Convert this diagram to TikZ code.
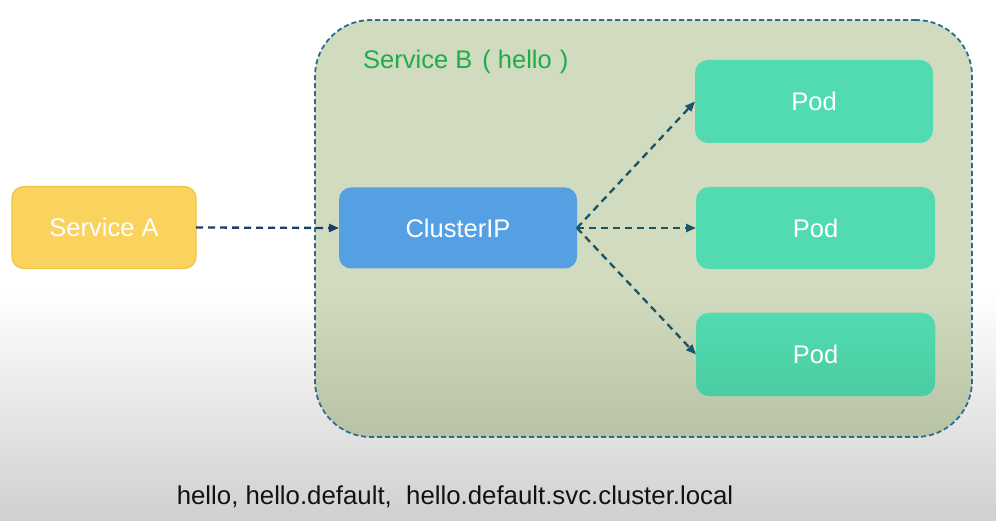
\documentclass[tikz,border=0pt]{standalone}
\usepackage{fontspec}
\setmainfont{Liberation Sans}
\usetikzlibrary{arrows.meta}
\definecolor{bgbot}{RGB}{208,208,208}
\definecolor{sbtop}{RGB}{208,219,191}
\definecolor{sbbot}{RGB}{184,195,166}
\definecolor{sbline}{RGB}{42,110,140}
\definecolor{sbtext}{RGB}{31,172,74}
\definecolor{yellowfill}{RGB}{250,210,94}
\definecolor{yellowline}{RGB}{242,196,66}
\definecolor{bluefill}{RGB}{85,160,227}
\definecolor{podfill}{RGB}{82,219,176}
\definecolor{podbot}{RGB}{75,204,162}
\definecolor{navy}{RGB}{30,60,105}
\definecolor{teal}{RGB}{26,85,102}
\pgfdeclareverticalshading{bgshade}{100bp}{color(0bp)=(bgbot); color(25bp)=(bgbot); color(47.2bp)=(white); color(100bp)=(white)}
\pgfdeclareverticalshading{sbshade}{100bp}{color(0bp)=(sbbot); color(25bp)=(sbbot); color(42.6bp)=(sbtop); color(100bp)=(sbtop)}
\begin{document}
\begin{tikzpicture}[x=1pt,y=-1pt,
  boxlabel/.style={font=\fontsize{25.5}{30}\selectfont, text=white},
  card/.style={rectangle, rounded corners=13pt, inner sep=0pt, outer sep=0pt, boxlabel},
  podbox/.style={card, fill=podfill, minimum width=238pt, minimum height=83pt},
  link/.style={draw=teal, line width=2.3pt, dash pattern=on 7pt off 5pt, -{Triangle[length=10pt,width=8pt]}}
]
\useasboundingbox (0,0) rectangle (996,521);
\shade[shading=bgshade] (0,0) rectangle (996,521);
\node[rectangle, rounded corners=56pt, minimum width=657pt, minimum height=417pt, inner sep=0pt,
  shading=sbshade, draw=sbline, line width=1.8pt, dash pattern=on 5pt off 3pt] (svcb) at (643.5,228.5) {};
\node[anchor=west, inner sep=0pt, text=sbtext, font=\fontsize{25.5}{30}\selectfont] (svcblabel) at (363,62) {Service B \kern3pt( hello \kern1pt)};
\node[card, fill=yellowfill, draw=yellowline, line width=1.3pt, minimum width=184pt, minimum height=82pt, rounded corners=12pt] (svca) at (104,227.5) {Service A};
\node[card, fill=bluefill, minimum width=238pt, minimum height=81pt, rounded corners=12pt] (cip) at (458,228) {ClusterIP};
\node[podbox] (pod1) at (814,101.5) {Pod};
\node[podbox, minimum width=239pt, minimum height=82pt] (pod2) at (815.5,228) {Pod};
\node[podbox, minimum width=239pt, top color=podfill, bottom color=podbot] (pod3) at (815.5,354.5) {Pod};
\draw[link, draw=navy] (svca.east) -- (cip.west);
\draw[link] (cip.east) -- (pod1.west);
\draw[link] (cip.east) -- (pod2.west);
\draw[link] (cip.east) -- (pod3.west);
\node[inner sep=0pt, text=black!93, font=\fontsize{25.8}{30}\selectfont] (names) at (455,497) {hello, hello.default,\ \ hello.default.svc.cluster.local};
\end{tikzpicture}
\end{document}
